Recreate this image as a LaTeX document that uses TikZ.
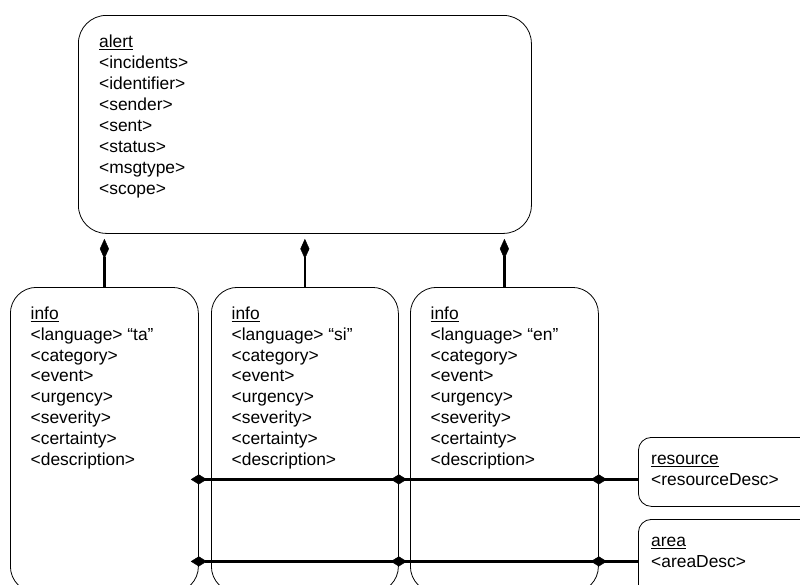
\documentclass[tikz,border=0pt]{standalone}
\usepackage{fontspec}
\setmainfont{Liberation Sans}
\usetikzlibrary{arrows.meta}

\begin{document}
\begin{tikzpicture}[x=1pt,y=-1pt,
  box/.style={draw,line width=0.8pt,rounded corners=#1,anchor=north west,inner sep=0pt},
  box/.default=26pt,
  fields/.style={anchor=north west,inner sep=0pt,align=left,font=\fontsize{17.4}{20.9}\selectfont},
  part/.style={line width=2.2pt,-{Diamond[length=20pt,width=9pt,line width=0.4pt]},shorten >=5pt},
  link/.style={line width=#1,-{Diamond[length=16pt,width=10pt,line width=0.4pt]},shorten >=-8pt},
  link/.default=2.2pt]
  \useasboundingbox (0,0) rectangle (800,584);
  \clip (0,0) rectangle (800,584);
  \node[box=28pt,minimum width=453pt,minimum height=218pt] (alert) at (78,15) {};
  \node[box,minimum width=188pt,minimum height=305pt] (info1) at (10,287) {};
  \node[box,minimum width=187pt,minimum height=305pt] (info2) at (211,287) {};
  \node[box,minimum width=188pt,minimum height=305pt] (info3) at (410,287) {};
  \node[box=13pt,minimum width=200pt,minimum height=69pt] (resource) at (638,437) {};
  \node[box=13pt,minimum width=200pt,minimum height=84pt] (area) at (638,519) {};
  \node[fields] (alerttext) at ([shift={(21,18)}]alert.north west) {\strut\underline{alert}\\<incidents>\\<identifier>\\<sender>\\<sent>\\<status>\\<msgtype>\\<scope>};
  \foreach \i/\lang in {1/ta,2/si,3/en}
    \node[fields] (infotext\i) at ([shift={(20.5,17.4)}]info\i.north west) {\strut\underline{info}\\<language> “\lang”\\<category>\\<event>\\<urgency>\\<severity>\\<certainty>\\<description>};
  \node[fields] (resourcetext) at ([shift={(13,12.4)}]resource.north west) {\strut\underline{resource}\\<resourceDesc>};
  \node[fields] (areatext) at ([shift={(13,12.4)}]area.north west) {\strut\underline{area}\\<areaDesc>};
  \draw[part] (info1.north) -- (info1.north |- alert.south);
  \draw[part] (info2.north) -- (info2.north |- alert.south);
  \draw[part,line width=3pt] (info3.north) -- (info3.north |- alert.south);
  \coordinate (reslink) at ([yshift=-7.5pt]resource.west);
  \foreach \i in {1,2,3}
    \draw[link=3pt] (reslink) -- (info\i.east |- reslink);
  \foreach \i in {1,2,3}
    \draw[link] (area.west) -- (info\i.east |- area.west);
\end{tikzpicture}
\end{document}
